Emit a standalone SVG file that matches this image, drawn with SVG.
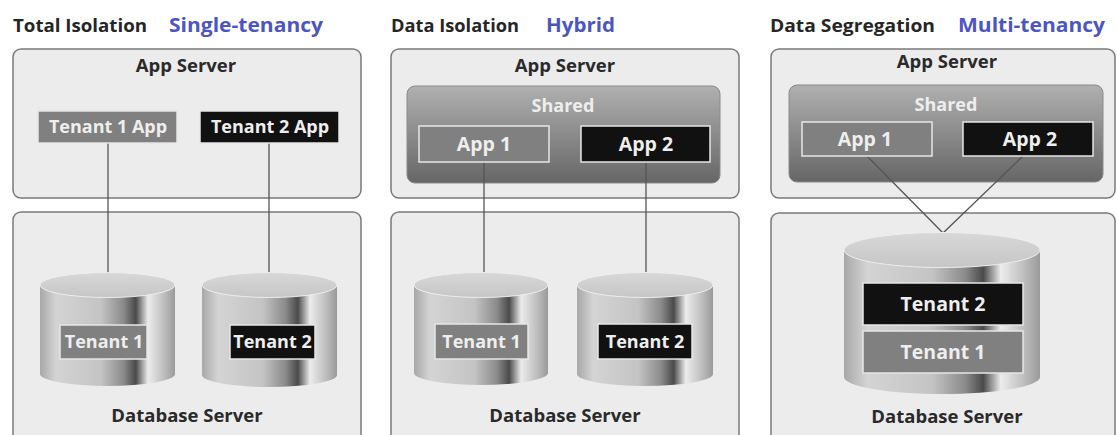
<svg xmlns="http://www.w3.org/2000/svg" width="1117" height="435" viewBox="0 0 1117 435">
<defs>
<linearGradient id="cyl" x1="0" y1="0" x2="1" y2="0">
<stop offset="0" stop-color="#a8a8a8"/>
<stop offset="0.12" stop-color="#d4d4d4"/>
<stop offset="0.45" stop-color="#c4c4c4"/>
<stop offset="0.62" stop-color="#8a8a8a"/>
<stop offset="0.71" stop-color="#4a4a4a"/>
<stop offset="0.8" stop-color="#ececec"/>
<stop offset="0.92" stop-color="#bdbdbd"/>
<stop offset="1" stop-color="#9a9a9a"/>
</linearGradient>
<linearGradient id="shared" x1="0" y1="0" x2="0" y2="1">
<stop offset="0" stop-color="#b0b0b0"/>
<stop offset="1" stop-color="#666666"/>
</linearGradient>
<linearGradient id="top" x1="0" y1="0" x2="0" y2="1">
<stop offset="0" stop-color="#d8d8d8"/>
<stop offset="1" stop-color="#c6c6c6"/>
</linearGradient>
</defs>
<style>
text{font-family:"Open Sans","Noto Sans","Liberation Sans",sans-serif;font-weight:bold;}
.title{font-size:18px;fill:#262626;}
.blue{font-size:20px;fill:#4c55c4;}
.srv{font-size:18.5px;fill:#2a2a2a;text-anchor:middle;}
.lbl{font-size:18px;fill:#eeeeee;text-anchor:middle;}
.big{font-size:19.5px;}
.box{fill:#ececec;stroke:#7a7a7a;stroke-width:1.5;}
.sh{fill:url(#shared);stroke:#8a8a8a;stroke-width:1;}
.g{fill:#808080;stroke:#e6e6e6;stroke-width:1.5;}
.k{fill:#111111;stroke:#e6e6e6;stroke-width:1.5;}
.body{fill:url(#cyl);}
.cap{fill:url(#top);stroke:#eeeeee;stroke-width:1;}
.con{stroke:#555555;stroke-width:1.3;fill:none;}
</style>
<rect width="1117" height="435" fill="#ffffff"/>

<g id="titles">
<text class="title" x="13" y="32" textLength="134" lengthAdjust="spacingAndGlyphs">Total Isolation</text>
<text class="blue" x="169" y="32" textLength="154" lengthAdjust="spacingAndGlyphs">Single-tenancy</text>
<text class="title" x="391" y="32" textLength="128" lengthAdjust="spacingAndGlyphs">Data Isolation</text>
<text class="blue" x="546" y="32" textLength="69" lengthAdjust="spacingAndGlyphs">Hybrid</text>
<text class="title" x="770" y="32" textLength="165" lengthAdjust="spacingAndGlyphs">Data Segregation</text>
<text class="blue" x="958" y="32" textLength="147" lengthAdjust="spacingAndGlyphs">Multi-tenancy</text>
</g>

<g id="app-server-1">
<rect class="box" x="13" y="49" width="348" height="149" rx="8"/>
<text class="srv" x="186" y="72">App Server</text>
</g>
<g id="db-server-1">
<rect class="box" x="13" y="212" width="348" height="240" rx="8"/>
<text class="srv" x="187" y="422">Database Server</text>
</g>
<g id="app-server-2">
<rect class="box" x="391" y="49" width="348" height="149" rx="8"/>
<text class="srv" x="565" y="72">App Server</text>
</g>
<g id="db-server-2">
<rect class="box" x="391" y="212" width="348" height="240" rx="8"/>
<text class="srv" x="565" y="422">Database Server</text>
</g>
<g id="app-server-3">
<rect class="box" x="771" y="49" width="344" height="149" rx="8"/>
<text class="srv" x="947" y="68">App Server</text>
</g>
<g id="db-server-3">
<rect class="box" x="771" y="213" width="344" height="240" rx="8"/>
<text class="srv" x="947" y="423">Database Server</text>
</g>

<g id="shared-2">
<rect class="sh" x="407" y="86" width="313" height="97" rx="8"/>
<text class="lbl" x="563" y="112">Shared</text>
</g>
<g id="shared-3">
<rect class="sh" x="789" y="85" width="314" height="97" rx="8"/>
<text class="lbl" x="946" y="111">Shared</text>
</g>

<g id="connectors">
<line class="con" x1="108" y1="143" x2="108" y2="282"/>
<line class="con" x1="269" y1="143" x2="269" y2="282"/>
<line class="con" x1="484" y1="162" x2="484" y2="282"/>
<line class="con" x1="646" y1="162" x2="646" y2="282"/>
<polyline class="con" points="867,156 943,233 1023,156"/>
</g>

<g id="tenant1-app">
<rect class="g" x="38" y="111" width="139" height="32"/>
<text class="lbl" x="108" y="133">Tenant 1 App</text>
</g>
<g id="tenant2-app">
<rect class="k" x="200" y="111" width="139" height="32"/>
<text class="lbl" x="270" y="133">Tenant 2 App</text>
</g>
<g id="app1-hybrid">
<rect class="g" x="419" y="126" width="130" height="36"/>
<text class="lbl big" x="484" y="151">App 1</text>
</g>
<g id="app2-hybrid">
<rect class="k" x="581" y="126" width="129" height="36"/>
<text class="lbl big" x="646" y="151">App 2</text>
</g>
<g id="app1-multi">
<rect class="g" x="802" y="122" width="130" height="34"/>
<text class="lbl big" x="865" y="146">App 1</text>
</g>
<g id="app2-multi">
<rect class="k" x="963" y="122" width="130" height="34"/>
<text class="lbl big" x="1030" y="146">App 2</text>
</g>

<g id="db-tenant1-single">
<path class="body" d="M40,285 L40,374 A67.5,12 0 0 0 175,374 L175,285 Z"/>
<ellipse class="cap" cx="107.5" cy="285" rx="67.5" ry="12.5"/>
<rect class="g" x="60" y="325" width="87" height="34"/>
<text class="lbl" x="104" y="348">Tenant 1</text>
</g>
<g id="db-tenant2-single">
<path class="body" d="M202,285 L202,375 A67.5,12 0 0 0 337,375 L337,285 Z"/>
<ellipse class="cap" cx="269.5" cy="285" rx="67.5" ry="12.5"/>
<rect class="k" x="230" y="325" width="85" height="34"/>
<text class="lbl" x="272.5" y="348">Tenant 2</text>
</g>
<g id="db-tenant1-hybrid">
<path class="body" d="M414,285 L414,373 A67,12 0 0 0 548,373 L548,285 Z"/>
<ellipse class="cap" cx="481" cy="285" rx="67" ry="12.5"/>
<rect class="g" x="435" y="324" width="93" height="35"/>
<text class="lbl" x="481.5" y="348">Tenant 1</text>
</g>
<g id="db-tenant2-hybrid">
<path class="body" d="M577,285 L577,374 A68,12 0 0 0 713,374 L713,285 Z"/>
<ellipse class="cap" cx="645" cy="285" rx="68" ry="12.5"/>
<rect class="k" x="598" y="324" width="94" height="35"/>
<text class="lbl" x="645" y="348">Tenant 2</text>
</g>
<g id="db-multi">
<path class="body" d="M844,250 L844,377 A98,17 0 0 0 1040,377 L1040,250 Z"/>
<ellipse class="cap" cx="942" cy="250" rx="98" ry="17.5"/>
<rect class="k" x="863" y="283" width="160" height="42"/>
<text class="lbl big" x="943" y="311">Tenant 2</text>
<rect class="g" x="863" y="331" width="160" height="42"/>
<text class="lbl big" x="943" y="359">Tenant 1</text>
</g>
</svg>
